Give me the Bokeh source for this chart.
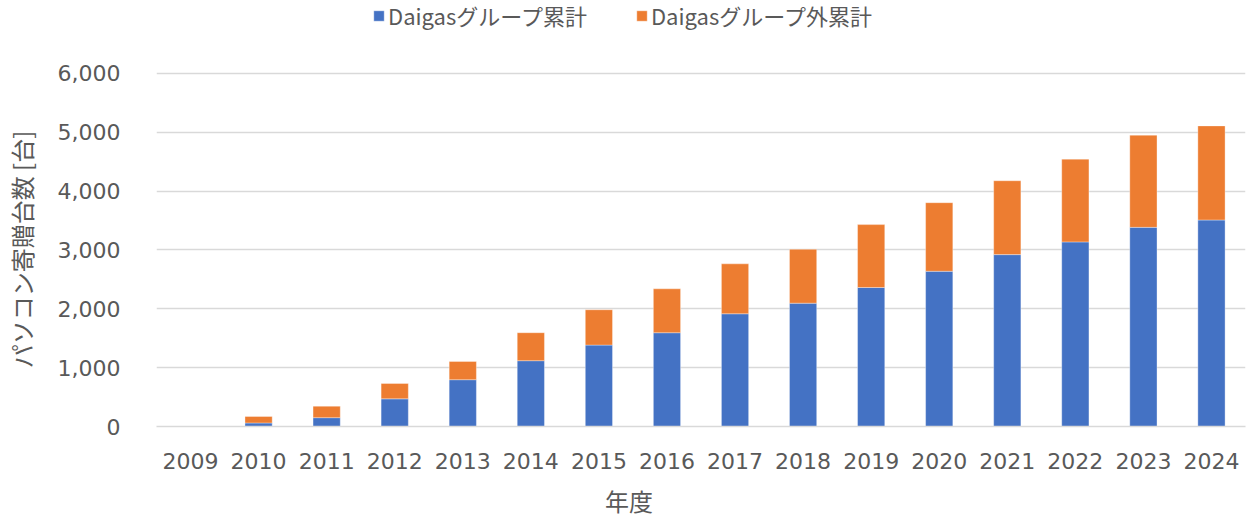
from bokeh.plotting import figure
from bokeh.models import ColumnDataSource, Legend, LegendItem, NumeralTickFormatter, FixedTicker
from bokeh.embed import file_html
from bokeh.resources import INLINE

years = ["2009", "2010", "2011", "2012", "2013", "2014", "2015", "2016",
         "2017", "2018", "2019", "2020", "2021", "2022", "2023", "2024"]
group = [0, 60, 150, 470, 795, 1118, 1383, 1593, 1915, 2095, 2361, 2637, 2920, 3136, 3383, 3508]
outside = [0, 110, 195, 260, 310, 475, 600, 746, 848, 915, 1069, 1165, 1255, 1406, 1566, 1599]
series = ["Daigasグループ累計", "Daigasグループ外累計"]
colors = ["#4472C4", "#ED7D31"]
y_ticks = [0, 1000, 2000, 3000, 4000, 5000, 6000]
y_title = "パソコン寄贈台数 [台]"
x_title = "年度"

src = ColumnDataSource(dict(year=years, g=group, o=outside))

# frame runs to the top of the figure so the legend can sit inside it
p = figure(x_range=years, y_range=(0, 7237), width=1249, height=520,
           output_backend="svg", toolbar_location=None,
           min_border_left=150, min_border_right=4, min_border_top=0, min_border_bottom=93)
p.outline_line_color = None

rs = p.vbar_stack(["g", "o"], x="year", width=0.4, source=src, color=colors,
                  line_color="white", line_alpha=0.35, line_width=1)

font = "DejaVu Sans"
jp = "Noto Sans CJK JP"
tc = "#595959"

p.yaxis.ticker = FixedTicker(ticks=y_ticks)
p.yaxis.formatter = NumeralTickFormatter(format="0,0")
for ax in (p.xaxis[0], p.yaxis[0]):
    ax.major_tick_line_color = None
    ax.minor_tick_line_color = None
    ax.major_label_text_font = font
    ax.major_label_text_font_size = "22px"
    ax.major_label_text_color = tc
    ax.axis_label_text_font = jp
    ax.axis_label_text_color = tc
    ax.axis_label_text_font_style = "normal"
p.yaxis.axis_label_text_font_size = "24px"
p.xaxis.axis_label_text_font_size = "24px"
p.yaxis.axis_line_color = None
p.xaxis.axis_line_color = "#D9D9D9"
p.xaxis.axis_line_width = 1.5
p.yaxis.major_label_standoff = 30
p.xaxis.major_label_standoff = 20
# trailing ideographic spaces shift the centred titles to where the reference has them
p.yaxis.axis_label = y_title + "\u3000\u3000\u3000"
p.xaxis.axis_label = x_title + "\u3000" * 6
p.yaxis.axis_label_standoff = 16
p.xaxis.axis_label_standoff = 11

p.xgrid.grid_line_color = None
p.ygrid.grid_line_color = "#D9D9D9"
p.ygrid.grid_line_width = 1.5

legend = Legend(items=[LegendItem(label=series[0], renderers=[rs[0]]),
                       LegendItem(label=series[1], renderers=[rs[1]])],
                orientation="horizontal", location=(216, 395),
                label_text_font=jp, label_text_font_size="22px", label_text_color=tc,
                glyph_width=13, glyph_height=13, spacing=48, padding=0, margin=0,
                label_standoff=3, border_line_color=None, background_fill_alpha=0)
p.add_layout(legend, "center")

open("out.html", "w").write(file_html(p, INLINE))
